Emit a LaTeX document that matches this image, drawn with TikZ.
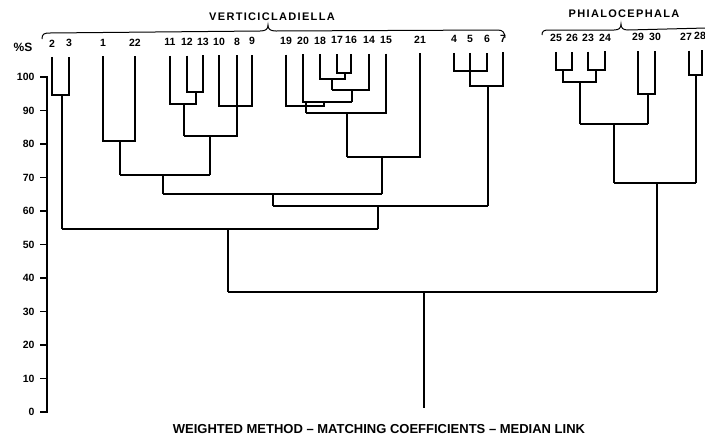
\documentclass[tikz,border=0pt]{standalone}
\usepackage{fontspec}
\setmainfont{Liberation Sans}
\newfontfamily\titlefont[LetterSpace=12]{Liberation Sans}
\begin{document}
\begin{tikzpicture}[x=1pt,y=-1pt,line width=1.1pt,
  leaf/.style={font=\bfseries\fontsize{10.5}{10.5}\selectfont,inner sep=0pt},
  ylab/.style={font=\bfseries\fontsize{10.5}{10.5}\selectfont,inner sep=0pt,anchor=east},
  grouptitle/.style={font=\titlefont\bfseries\fontsize{11}{11}\selectfont,inner sep=0pt},
  captiontext/.style={font=\bfseries\fontsize{13}{13}\selectfont,inner sep=0pt},
  bracepath/.style={line width=1pt}]
\useasboundingbox (0,0) rectangle (705,437);
% leaves
\foreach \n/\x/\lx in {2/52/52,3/69/69,1/103/103,22/135/135,11/170/170,12/187/187,13/203/203,10/219/219,8/237/237,9/252/252,
  19/286/286,20/303/303,18/320/320,17/337/337,16/351/351,14/369/369,15/386/386,21/420/420,4/454/454,5/470/470,6/487/487,7/503/503,
  25/556/556,26/572/572,23/588/588,24/605/605,29/638/638,30/655/655,27/689/686,28/702/700}{
  \coordinate (L\n) at (\x,{57.5-0.01*\x});
  \node[leaf] (n\n) at (\lx,{44-0.011*\x}) {\n};
}
% axis
\draw (40,77) -- (47,77) -- (47,412) -- (40,412);
\foreach \p in {10,20,...,90}{ \draw (40,{412-3.35*\p}) -- (47,{412-3.35*\p}); }
\foreach \p in {0,10,...,100}{ \node[ylab] (y\p) at (35,{412-3.35*\p}) {\p}; }
\node[leaf,font=\bfseries\fontsize{12}{12}\selectfont] (ps) at (23,47) {\%S};
% Verticicladiella: 2,3
\draw (L2) |- (69,95) -- (L3);
\draw (62,95) -- (62,229);
% 1,22
\draw (L1) |- (135,141) -- (L22);
\draw (120,141) -- (120,175);
% 11,12,13
\draw (L12) |- (203,92) -- (L13);
\draw (L11) |- (196,104) -- (196,92);
\draw (184,104) -- (184,136);
% 10,8,9
\draw (L10) |- (252,106) -- (L9);
\draw (L8) -- (237,136) -- (184,136);
\draw (210,136) -- (210,175);
\draw (120,175) -- (210,175);
\draw (163,175) -- (163,194);
% 19..15, 21
\draw (L17) |- (351,73) -- (L16);
\draw (L18) |- (345,79) -- (345,73);
\draw (332,79) -- (332,90);
\draw (L14) |- (332,90);
\draw (352,90) -- (352,102);
\draw (L20) |- (352,102);
\draw (L19) |- (324,106) -- (324,102);
\draw (306,102) -- (306,113);
\draw (L15) |- (306,113);
\draw (347,113) -- (347,157);
\draw (L21) |- (347,157);
\draw (382,157) -- (382,194);
\draw (163,194) -- (382,194);
\draw (273,194) -- (273,206);
% 4,5,6,7
\draw (L4) |- (487,71) -- (L6);
\draw (L5) |- (503,86) -- (L7);
\draw (488,86) -- (488,206);
\draw (273,206) -- (488,206);
\draw (378,206) -- (378,229);
\draw (62,229) -- (378,229);
\draw (228,229) -- (228,292);
% Phialocephala
\draw (L25) |- (572,70) -- (L26);
\draw (L23) |- (605,70) -- (L24);
\draw (563,70) -- (563,82) -- (596,82) -- (596,70);
\draw (580,82) -- (580,124);
\draw (L29) |- (655,94) -- (L30);
\draw (648,94) -- (648,124);
\draw (580,124) -- (648,124);
\draw (614,124) -- (614,183);
\draw (L27) |- (702,75) -- (L28);
\draw (696,75) -- (696,183);
\draw (614,183) -- (696,183);
\draw (657,183) -- (657,292);
\draw (228,292) -- (657,292);
\coordinate (root) at (424,408);
\draw (424,292) -- (root);
% braces
\draw[bracepath] (42,39) .. controls (42,34) and (44,33) .. (50,33) -- (260,31)
  .. controls (266,31) and (268,29) .. (268,25)
  .. controls (268,29) and (270,31) .. (276,31) -- (498,30)
  .. controls (503,30) and (505,33) .. (505,38);
\draw[bracepath] (542,35) .. controls (542,31) and (544,30) .. (549,30) -- (614,30)
  .. controls (619,30) and (621,28) .. (621,24)
  .. controls (621,28) and (623,30) .. (628,30) -- (706,28);
% titles
\node[grouptitle] (tV) at (272,17) {VERTICICLADIELLA};
\node[grouptitle] (tP) at (624,14) {PHIALOCEPHALA};
\node[captiontext] (cap) at (379,429) {WEIGHTED METHOD – MATCHING COEFFICIENTS – MEDIAN LINK};
\end{tikzpicture}
\end{document}
